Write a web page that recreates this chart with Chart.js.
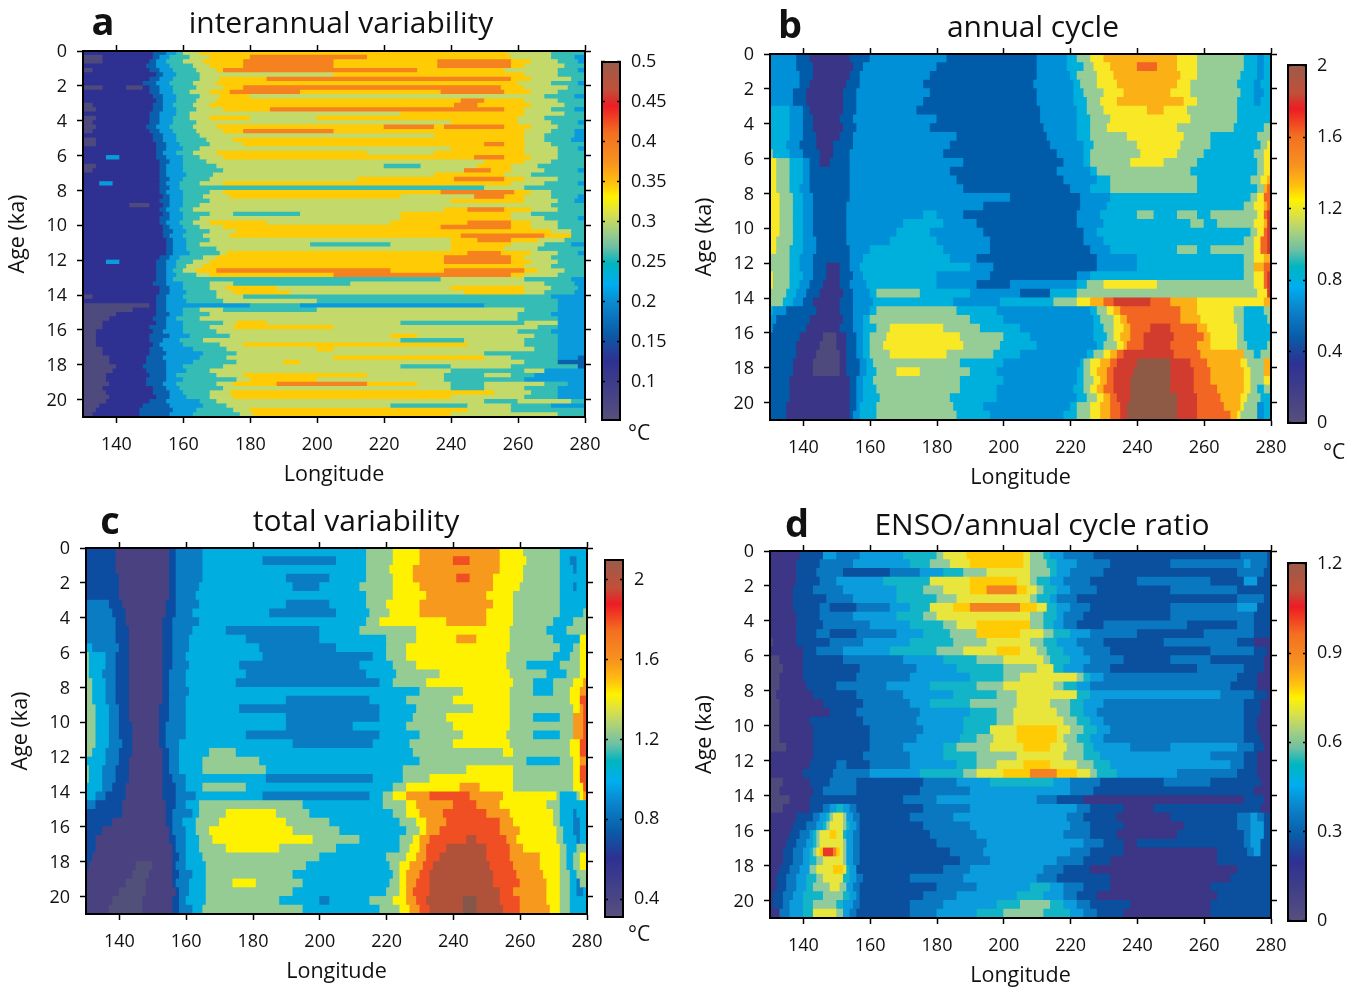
<!DOCTYPE html>
<html>
<head>
<meta charset="utf-8">
<title>Variability panels</title>
<script src="https://cdn.jsdelivr.net/npm/chart.js@4/dist/chart.umd.js"></script>
<style>
  body { margin: 0; background: #fff; font-family: "Open Sans", sans-serif; color: #111; }
  canvas { position: absolute; }
  .label { position: absolute; transform: translate(-50%, -50%); white-space: nowrap; }
  .title { font-size: 30px; }
  .letter { font-size: 38px; font-weight: 700; }
  .unit { font-size: 21px; }
</style>
</head>
<body>
<canvas id="panelA"></canvas><canvas id="barA"></canvas>
<canvas id="panelB"></canvas><canvas id="barB"></canvas>
<canvas id="panelC"></canvas><canvas id="barC"></canvas>
<canvas id="panelD"></canvas><canvas id="barD"></canvas>
<div class="label letter" style="left:103px;top:20px">a</div>
<div class="label title" style="left:341px;top:21px">interannual variability</div>
<div class="label letter" style="left:790px;top:23px">b</div>
<div class="label title" style="left:1033px;top:25px">annual cycle</div>
<div class="label letter" style="left:110px;top:519px">c</div>
<div class="label title" style="left:356px;top:519px">total variability</div>
<div class="label letter" style="left:797px;top:522px">d</div>
<div class="label title" style="left:1042px;top:523px">ENSO/annual cycle ratio</div>
<div class="label unit" style="left:639px;top:432px">°C</div>
<div class="label unit" style="left:1334px;top:451px">°C</div>
<div class="label unit" style="left:639px;top:933px">°C</div>
<script>
const lonTicks = [140, 160, 180, 200, 220, 240, 260, 280];
const ageTicks = [0, 2, 4, 6, 8, 10, 12, 14, 16, 18, 20];
const lonMin = 130, lonMax = 280, ageMax = 21;

const barTicksA = [0.1, 0.15, 0.2, 0.25, 0.3, 0.35, 0.4, 0.45, 0.5];
const barTicksB = [0, 0.4, 0.8, 1.2, 1.6, 2];
const barTicksC = [0.4, 0.8, 1.2, 1.6, 2];
const barTicksD = [0, 0.3, 0.6, 0.9, 1.2];

const levelsA = [0.05, 0.1, 0.15, 0.2, 0.25, 0.3, 0.35, 0.4, 0.45, 0.5];
const levelsB = [0, 0.2, 0.4, 0.6, 0.8, 1, 1.2, 1.4, 1.6, 1.8, 2];
const levelsC = [0.3, 0.4, 0.6, 0.8, 1, 1.2, 1.4, 1.6, 1.8, 2, 2.1];
const levelsD = [0, 0.12, 0.3, 0.375, 0.45, 0.525, 0.6, 0.7, 0.8, 0.9, 1.05];

const colorsA = ['#4f4a7d', '#2e3192', '#0b60ae', '#0a9bdd', '#35bcb5', '#c3d96a', '#ffcb05', '#f5821f', '#ed1c24', '#965a47'];
const colorsB = ['#4e4a7c', '#3b3587', '#005ca8', '#0090d8', '#00b0dc', '#96cc96', '#f8e825', '#fbb016', '#f26522', '#d23c2e', '#8f5a45'];
const colorsC = ['#50507a', '#4a4280', '#0c4da2', '#0a7cc4', '#00aee0', '#94cc94', '#fff200', '#f7991c', '#f04e23', '#b0523a', '#85574a'];
const colorsD = ['#4e4a7c', '#3d3585', '#0b4f9f', '#0a78c0', '#0a9cdc', '#12b4c8', '#8fcb9f', '#e8e53c', '#ffcb05', '#f58220', '#e8382a'];

const barStops = [
  [0, '#58507c'], [0.167, '#2e3192'], [0.242, '#0a5ca8'], [0.326, '#0a88cf'], [0.38, '#00aeef'],
  [0.437, '#00b5bf'], [0.484, '#6fc0a4'], [0.53, '#a5cf80'], [0.577, '#d9e04a'], [0.623, '#fff200'],
  [0.66, '#ffc20e'], [0.716, '#f7941e'], [0.8, '#f36f21'], [0.875, '#ed1c24'], [0.92, '#c0503a'], [1, '#9a5b4a']
];

// rows run evenly from age 0 to 21: longitude where a band ends, band value, ...
const rowsA = [
  [151,.1,155,.15,158,.2,160,.25,165,.3,257,.35,270,.3,280,.25],
  [136,.05,151,.1,153,.15,156,.2,162,.25,168,.3,180,.35,215,.4,258,.35,270,.3,277,.25,280,.2],
  [136,.05,150,.1,152,.15,155,.2,160,.25,166,.3,178,.35,205,.4,236,.35,258,.4,264,.35,272,.3,278,.25,280,.2],
  [149,.1,152,.15,156,.2,163,.25,168,.3,178,.35,205,.4,236,.35,258,.4,262,.35,274,.3,280,.25],
  [133,.05,150,.1,153,.15,157,.2,164,.25,170,.3,172,.35,230,.4,256,.35,272,.3,278,.25,280,.2],
  [152,.1,154,.15,158,.2,165,.25,205,.3,262,.35,272,.3,280,.25],
  [150,.1,153,.15,157,.2,165,.25,171,.3,185,.35,258,.4,264,.35,276,.3,280,.25],
  [148,.1,152,.15,156,.2,163,.25,170,.3,260,.35,270,.3,278,.25,280,.2],
  [136,.05,143,.1,148,.05,150,.1,153,.15,157,.2,164,.25,172,.3,178,.35,255,.4,262,.35,275,.3,280,.25],
  [150,.1,153,.15,157,.2,162,.25,168,.3,174,.35,195,.4,237,.35,256,.4,264,.35,272,.3,280,.25],
  [151,.1,154,.15,158,.2,165,.25,171,.3,180,.35,268,.3,277,.25,280,.2],
  [152,.1,154,.15,158,.2,164,.25,170,.3,243,.35,250,.4,262,.35,272,.3,280,.25],
  [133,.05,151,.1,154,.15,157,.2,163,.25,168,.3,241,.35,248,.4,264,.35,274,.3,280,.25],
  [134,.05,151,.1,154,.15,158,.2,164,.25,172,.3,186,.35,256,.4,262,.35,270,.3,277,.25,280,.2],
  [150,.1,153,.15,158,.2,162,.25,225,.3,262,.35,274,.3,280,.25],
  [134,.05,150,.1,153,.15,157,.2,162,.25,168,.3,180,.35,200,.3,260,.35,268,.3,280,.25],
  [133,.05,150,.1,153,.15,157,.2,164,.25,240,.3,260,.35,270,.3,278,.25,280,.2],
  [134,.05,149,.1,152,.15,156,.2,163,.25,170,.3,220,.35,235,.4,238,.35,256,.4,264,.35,272,.3,280,.25],
  [133,.05,150,.1,153,.15,157,.2,164,.25,172,.3,178,.35,205,.4,262,.35,270,.3,277,.25,280,.2],
  [151,.1,154,.15,158,.2,165,.25,235,.3,262,.35,268,.3,277,.25,280,.2],
  [134,.05,151,.1,154,.15,158,.2,167,.25,175,.3,262,.35,268,.3,276,.25,280,.2],
  [134,.05,152,.1,155,.15,159,.2,168,.25,178,.3,250,.35,256,.4,262,.35,270,.3,280,.25],
  [152,.1,155,.15,160,.2,165,.25,240,.3,262,.35,272,.3,278,.25,280,.2],
  [152,.1,154,.15,158,.2,163,.25,170,.3,215,.35,235,.3,262,.35,272,.3,280,.25],
  [137,.1,141,.2,152,.1,155,.15,160,.2,165,.25,172,.3,247,.35,256,.4,264,.35,272,.3,280,.25],
  [153,.1,156,.15,160,.2,167,.25,250,.3,262,.35,270,.3,280,.25],
  [134,.05,153,.1,155,.15,160,.2,170,.25,220,.3,231,.25,248,.3,258,.35,266,.3,280,.25],
  [133,.05,153,.1,155,.15,160,.2,172,.25,244,.3,252,.4,258,.35,268,.3,278,.25,280,.2],
  [153,.1,155,.15,161,.2,169,.25,235,.3,256,.35,264,.3,280,.25],
  [153,.1,156,.15,160,.2,168,.25,212,.3,241,.35,256,.4,262,.35,272,.3,280,.25],
  [135,.1,139,.2,153,.1,155,.15,159,.2,165,.25,172,.3,258,.35,268,.3,278,.25,280,.2],
  [153,.1,156,.15,159,.2,250,.25,262,.3,280,.25],
  [153,.1,155,.15,160,.2,168,.25,172,.3,237,.35,259,.4,264,.35,270,.3,280,.25],
  [154,.1,156,.15,160,.2,166,.25,174,.3,225,.35,247,.3,256,.4,262,.35,270,.3,278,.25,280,.2],
  [153,.1,156,.15,160,.2,168,.25,240,.3,262,.35,272,.3,277,.25,280,.2],
  [144,.1,150,.05,154,.1,156,.15,160,.2,165,.25,270,.3,280,.25],
  [153,.1,155,.15,159,.2,163,.25,238,.3,245,.35,256,.4,264,.35,272,.3,280,.25],
  [154,.1,156,.15,160,.2,168,.25,175,.3,195,.25,225,.3,258,.35,264,.3,280,.25],
  [153,.1,156,.15,160,.2,165,.25,225,.3,258,.35,268,.3,278,.25,280,.2],
  [153,.1,155,.15,159,.2,163,.25,168,.3,185,.35,222,.3,245,.35,258,.4,264,.35,272,.3,280,.25],
  [154,.1,156,.15,160,.2,165,.25,172,.3,237,.35,258,.4,264,.35,272,.3,280,.25],
  [154,.1,157,.15,161,.2,168,.25,176,.3,270,.35,276,.3,280,.25],
  [154,.1,156,.15,160,.2,166,.25,174,.3,243,.35,268,.4,276,.35,280,.25],
  [155,.1,157,.15,161,.2,168,.25,240,.3,248,.35,258,.4,266,.35,274,.3,280,.25],
  [155,.1,157,.15,161,.2,165,.25,198,.3,222,.25,240,.3,258,.35,268,.3,276,.25,280,.2],
  [155,.1,157,.15,161,.2,170,.25,240,.3,256,.35,266,.3,280,.25],
  [155,.1,157,.15,162,.2,171,.25,173,.3,245,.35,255,.4,264,.35,272,.3,278,.25,280,.2],
  [153,.1,156,.15,159,.2,166,.25,170,.3,238,.35,258,.4,262,.35,270,.3,280,.25],
  [137,.1,141,.2,152,.1,155,.15,158,.2,163,.25,168,.3,238,.35,258,.4,264,.35,272,.3,280,.25],
  [152,.1,155,.15,158,.2,161,.25,166,.3,262,.35,270,.3,280,.25],
  [152,.1,155,.15,157,.2,160,.25,164,.3,170,.35,222,.4,238,.35,262,.4,266,.35,274,.3,280,.25],
  [152,.1,155,.15,158,.2,164,.25,168,.3,205,.35,258,.4,262,.35,272,.3,280,.25],
  [152,.1,155,.15,157,.2,237,.25,262,.3,276,.25,280,.2],
  [151,.1,155,.15,160,.2,168,.25,175,.3,210,.25,268,.3,277,.25,280,.2],
  [153,.1,156,.15,160,.2,168,.25,173,.3,188,.35,240,.3,262,.35,270,.3,278,.25,280,.2],
  [153,.1,156,.15,161,.2,170,.25,175,.3,192,.35,244,.3,262,.35,268,.3,277,.25,280,.2],
  [133,.05,152,.1,155,.15,160,.2,170,.25,178,.3,270,.25,280,.2],
  [152,.1,155,.15,161,.2,172,.25,200,.3,272,.25,280,.2],
  [150,.05,152,.1,155,.15,180,.2,195,.25,250,.2,272,.25,280,.2],
  [145,.05,152,.1,155,.15,160,.2,165,.25,172,.3,200,.25,262,.3,272,.25,280,.2],
  [140,.05,152,.1,156,.15,160,.2,168,.25,260,.3,270,.25,280,.2],
  [138,.05,151,.1,155,.15,158,.2,165,.25,260,.3,272,.25,280,.2],
  [136,.05,152,.1,155,.15,160,.2,172,.25,176,.3,185,.35,225,.3,262,.25,272,.3,280,.2],
  [136,.05,150,.1,155,.15,160,.2,168,.25,175,.3,205,.35,266,.3,272,.25,280,.2],
  [134,.05,151,.1,154,.15,160,.2,170,.25,260,.3,270,.25,280,.2],
  [134,.05,150,.1,156,.15,162,.2,174,.25,222,.3,230,.35,265,.3,272,.25,280,.2],
  [134,.05,150,.1,154,.15,159,.2,166,.25,225,.3,244,.25,262,.3,272,.25,280,.2],
  [134,.05,151,.1,153,.15,160,.2,171,.25,178,.3,245,.35,262,.3,272,.25,280,.2],
  [136,.05,150,.1,154,.15,163,.2,173,.25,200,.3,205,.35,265,.3,272,.25,280,.2],
  [136,.05,150,.1,155,.15,166,.2,176,.25,250,.3,272,.25,280,.2],
  [138,.05,149,.1,154,.15,165,.2,173,.25,205,.3,250,.35,258,.3,272,.25,278,.2,280,.15],
  [138,.05,149,.1,155,.15,163,.2,176,.25,190,.3,195,.35,262,.3,272,.25,280,.15],
  [140,.05,148,.1,155,.15,160,.2,172,.25,225,.3,240,.25,258,.3,278,.25,280,.15],
  [139,.05,149,.1,155,.15,161,.2,168,.25,240,.3,262,.25,268,.3,280,.2],
  [137,.05,150,.1,155,.15,158,.2,170,.25,178,.3,215,.35,238,.3,250,.25,258,.3,265,.25,280,.2],
  [137,.05,149,.1,155,.15,160,.2,176,.25,180,.3,200,.35,238,.3,262,.25,280,.2],
  [138,.05,149,.1,154,.15,158,.2,170,.25,175,.3,188,.35,215,.4,230,.35,240,.3,250,.25,268,.3,275,.25,280,.2],
  [136,.05,151,.1,155,.15,159,.2,172,.25,240,.3,250,.25,262,.3,272,.25,280,.2],
  [137,.05,151,.1,156,.15,160,.2,168,.25,174,.3,253,.35,264,.3,272,.25,280,.2],
  [138,.05,152,.1,156,.15,161,.2,168,.25,175,.3,240,.35,262,.3,272,.25,280,.2],
  [137,.05,150,.1,155,.15,165,.2,170,.25,250,.3,260,.25,276,.3,280,.25],
  [135,.05,148,.1,156,.15,166,.2,173,.25,222,.3,245,.25,258,.3,270,.25,280,.2],
  [134,.05,147,.1,157,.15,164,.2,175,.25,180,.3,245,.35,258,.3,272,.25,280,.25],
  [133,.05,147,.1,156,.15,163,.2,177,.25,181,.3,240,.35,272,.3,280,.25]
];

const rowsB = [
  [138,.6,142,.4,154,.2,160,.4,183,.6,210,.4,219,.6,222,.8,226,1,230,1.2,252,1.4,258,1.2,272,1,276,.8,278,.6,280,.8],
  [138,.6,143,.4,155,.2,158,.4,180,.6,210,.4,219,.6,224,.8,227,1,232,1.2,240,1.4,246,1.6,252,1.4,258,1.2,272,1,276,.8,278,.6,280,.8],
  [139,.6,143,.4,154,.2,157,.4,178,.6,210,.4,220,.6,222,.8,228,1,233,1.2,253,1.4,258,1.2,271,1,276,.8,278,.6,280,.8],
  [139,.6,142,.4,153,.2,157,.4,176,.6,209,.4,221,.6,223,.8,228,1,234,1.2,252,1.4,256,1.2,270,1,275,.8,277,.6,280,.8],
  [137,.6,141,.4,152,.2,156,.4,178,.6,210,.4,221,.6,224,.8,230,1,236,1.2,250,1.4,256,1.2,271,1,275,.8,278,.6,280,.8],
  [137,.6,141,.4,152,.2,156,.4,176,.6,210,.4,221,.6,225,.8,229,1,234,1.2,254,1.4,258,1.2,270,1,275,.8,277,.6,280,.8],
  [136,.8,140,.6,142,.4,152,.2,156,.4,174,.6,211,.4,222,.6,225,.8,230,1,243,1.2,248,1.4,255,1.2,270,1,280,.8],
  [136,.8,140,.6,143,.4,151,.2,155,.4,180,.6,211,.4,222,.6,226,.8,232,1,256,1.2,270,1,280,.8],
  [136,.8,140,.6,143,.4,152,.2,156,.4,178,.6,212,.4,222,.6,226,.8,231,1,252,1.2,269,1,278,.8,280,1],
  [136,.8,140,.6,144,.4,151,.2,155,.4,186,.6,213,.4,222,.6,226,.8,237,1,254,1.2,262,1,276,.8,280,1],
  [135,.8,139,.6,144,.4,149,.2,155,.4,184,.6,214,.4,224,.6,227,.8,240,1,253,1.2,262,1,277,.8,279,1,280,1.2],
  [131,1,136,.8,140,.6,145,.4,149,.2,154,.4,182,.6,216,.4,224,.6,226,.8,241,1,252,1.2,260,1,275,.8,278,1,280,1.2],
  [132,1.2,136,1,140,.8,142,.6,145,.4,148,.2,154,.4,188,.6,218,.4,224,.6,226,.8,238,1,248,1.2,258,1,276,.8,278,1,280,1.2],
  [132,1.2,136,1,140,.8,142,.6,154,.4,184,.6,216,.4,226,.6,228,.8,256,1,276,.8,278,1,280,1.2],
  [132,1.2,136,1,140,.8,142,.6,154,.4,186,.6,218,.4,228,.6,232,.8,258,1,274,.8,277,1,279,1.2,280,1.4],
  [132,1.2,136,1,139,.8,142,.6,154,.4,188,.6,220,.4,226,.6,232,.8,258,1,276,.8,278,1,279,1.4,280,1.6],
  [133,1.2,137,1,140,.8,143,.6,154,.4,202,.6,223,.4,232,.6,274,.8,276,1,278,1.2,280,1.6],
  [133,1.2,137,1,140,.8,143,.6,153,.4,194,.6,223,.4,231,.6,272,.8,275,1,278,1.2,279,1.4,280,1.6],
  [133,1.2,137,1,140,.8,143,.6,153,.4,176,.6,180,.8,188,.6,222,.4,229,.6,240,.8,245,1,252,.8,258,1,262,.8,276,1,278,1.2,279,1.6,280,1.8],
  [133,1.2,137,1,140,.8,143,.6,153,.4,170,.6,182,.8,192,.6,222,.4,230,.6,256,.8,260,1,264,.8,275,1,278,1.2,279,1.4,280,1.8],
  [133,1.2,137,1,140,.8,143,.6,153,.4,168,.6,178,.8,194,.6,224,.4,228,.6,274,.8,276,1,278,1.2,279,1.6,280,1.8],
  [132,1.2,137,1,140,.8,144,.6,153,.4,166,.6,180,.8,196,.6,224,.4,230,.6,272,.8,275,1,277,1.2,279,1.6,280,1.8],
  [132,1.2,136,1,140,.8,144,.6,154,.4,160,.6,182,.8,196,.6,226,.4,232,.6,252,.8,258,1,262,.8,275,1,277,1.2,279,1.6,280,1.8],
  [136,1,139,.8,143,.6,154,.4,158,.6,184,.8,192,.6,228,.4,240,.6,272,.8,275,1,278,1.2,280,1.4],
  [136,1,139,.8,143,.6,147,.4,151,.2,154,.4,157,.6,190,.8,197,.6,228,.4,240,.6,272,.8,275,1,278,1.4,280,1.6],
  [131,1.2,136,1,140,.8,143,.6,147,.4,151,.2,155,.4,158,.6,180,.8,196,.6,222,.4,226,.6,272,.8,275,1,278,1.2,279,1.6,280,1.8],
  [131,1.2,136,1,139,.8,142,.6,146,.4,151,.2,154,.4,159,.6,180,.8,192,.6,202,.4,222,.6,225,.8,230,1,246,1.2,275,1,278,1.2,279,1.6,280,1.8],
  [135,1,138,.8,141,.6,145,.4,152,.2,155,.4,160,.6,162,.8,175,1,190,.8,205,.6,214,.4,222,.8,276,1,279,1.2,280,1.8],
  [134,1,137,.8,140,.6,143,.4,151,.2,155,.4,161,.6,185,.8,199,.6,215,.8,222,1,226,1.2,230,1.4,233,1.6,244,1.8,250,1.6,258,1.4,278,1.2,280,1.4],
  [131,.8,135,.6,144,.4,151,.2,155,.4,160,.6,162,.8,186,1,198,.8,226,.6,228,.8,231,1,233,1.2,235,1.4,253,1.6,258,1.4,269,1.2,272,1,278,.8,280,1],
  [132,.6,142,.4,152,.2,155,.4,158,.6,160,.8,190,1,200,.8,227,.6,229,.8,233,1,235,1.2,237,1.4,253,1.6,259,1.4,269,1.2,272,1,279,.8,280,1],
  [131,.6,141,.4,151,.2,155,.4,158,.6,162,.8,166,1,182,1.2,193,1,205,.8,227,.6,230,.8,233,1,236,1.2,238,1.4,244,1.6,250,1.8,258,1.6,261,1.4,270,1.2,272,1,280,.8],
  [139,.4,146,.2,150,0,153,.2,156,.4,158,.6,160,.8,165,1,187,1.2,200,1,208,.8,227,.6,231,.8,233,1,235,1.2,238,1.4,242,1.6,251,1.8,260,1.6,262,1.4,270,1.2,272,1,280,.8],
  [138,.4,145,.2,150,0,153,.2,156,.4,158,.6,160,.8,164,1,188,1.2,199,1,210,.8,228,.6,230,.8,234,1,236,1.2,237,1.4,242,1.6,250,1.8,258,1.6,262,1.4,270,1.2,273,1,279,.8,280,1],
  [138,.4,144,.2,151,0,153,.2,156,.4,158,.6,160,.8,166,1,183,1.2,197,1,205,.8,225,.6,227,.8,230,1,232,1.2,234,1.4,236,1.6,251,1.8,259,1.6,272,1.4,275,1,277,.8,280,1],
  [137,.4,143,.2,151,0,153,.2,157,.4,159,.6,161,.8,187,1,200,.8,223,.6,224,.8,226,1,229,1.2,232,1.4,234,1.6,240,1.8,250,2,256,1.8,261,1.6,271,1.4,273,1.2,278,1,280,1.4],
  [137,.4,143,.2,151,0,153,.2,157,.4,159,.6,162,.8,168,1,175,1.2,190,1,198,.8,222,.6,224,.8,226,1,228,1.2,231,1.4,233,1.6,239,1.8,250,2,257,1.8,262,1.6,272,1.4,274,1.2,278,1,280,1.4],
  [136,.4,154,.2,156,.4,158,.6,161,.8,187,1,200,.8,222,.6,224,.8,227,1,229,1.2,231,1.4,233,1.6,238,1.8,250,2,257,1.8,262,1.6,272,1.4,274,1.2,278,1,280,1.2],
  [136,.4,154,.2,156,.4,158,.6,162,.8,187,1,198,.8,221,.6,224,.8,226,1,228,1.2,230,1.4,233,1.6,238,1.8,250,2,257,1.8,264,1.6,272,1.4,274,1.2,276,1,278,.8,280,1],
  [136,.4,154,.2,156,.4,158,.6,163,.8,184,1,198,.8,222,.6,225,.8,228,1,230,1.2,232,1.4,234,1.6,238,1.8,252,2,258,1.8,265,1.6,271,1.4,273,1.2,277,1,280,.8],
  [135,.4,154,.2,156,.4,157,.6,162,.8,185,1,194,.8,220,.6,222,.8,226,1,229,1.2,232,1.4,235,1.6,237,1.8,252,2,258,1.8,266,1.6,271,1.4,272,1.2,276,1,278,.6,280,.8],
  [135,.4,154,.2,155,.4,157,.6,162,.8,186,1,196,.8,218,.6,222,.8,226,1,229,1.2,232,1.4,235,1.6,237,1.8,252,2,258,1.8,268,1.6,270,1.4,271,1.2,276,1,278,.6,280,.8]
];

const rowsC = [
  [139,.6,155,.4,157,.6,165,.8,214,1,222,1.2,230,1.4,254,1.6,261,1.4,272,1.2,280,1],
  [139,.6,155,.4,157,.6,165,.8,183,1,205,.8,214,1,222,1.2,230,1.4,240,1.6,245,1.8,254,1.6,262,1.4,272,1.2,275,1,277,.8,280,1],
  [139,.6,155,.4,157,.6,165,.8,214,1,221,1.2,228,1.4,254,1.6,261,1.4,272,1.2,276,1,277,.8,280,1],
  [140,.6,155,.4,157,.6,165,.8,190,1,203,.8,214,1,222,1.2,228,1.4,241,1.6,245,1.8,252,1.6,261,1.4,272,1.2,280,1],
  [140,.6,155,.4,157,.6,164,.8,192,1,200,.8,212,1,222,1.2,230,1.4,252,1.6,260,1.4,272,1.2,276,1,277,.8,280,1],
  [140,.6,155,.4,157,.6,163,.8,214,1,222,1.2,232,1.4,250,1.6,258,1.4,272,1.2,280,1],
  [137,.8,141,.6,154,.4,157,.6,164,.8,190,1,203,.8,214,1,220,1.2,230,1.4,252,1.6,258,1.4,272,1.2,280,1],
  [138,.8,142,.6,154,.4,157,.6,162,.8,185,1,205,.8,215,1,221,1.2,230,1.4,250,1.6,258,1.4,272,1.2,279,1,280,1.2],
  [139,.8,142,.6,153,.4,156,.6,164,.8,214,1,218,1.2,238,1.4,250,1.6,258,1.4,270,1.2,276,1,280,1.2],
  [139,.8,143,.6,153,.4,156,.6,162,.8,172,1,200,.8,212,1,229,1.2,257,1.4,268,1.2,274,1,280,1.2],
  [139,.8,143,.6,153,.4,156,.6,161,.8,178,1,200,.8,220,1,229,1.2,241,1.4,247,1.6,257,1.4,270,1.2,278,1,280,1.4],
  [132,1,140,.8,143,.6,153,.4,156,.6,161,.8,182,1,205,.8,220,1,226,1.2,257,1.4,272,1.2,276,1,278,1.2,280,1.4],
  [131,1.2,136,1,139,.8,143,.6,153,.4,156,.6,160,.8,183,1,216,.8,220,1,226,1.2,256,1.4,270,1.2,275,1,278,1.2,280,1.4],
  [131,1.2,136,1,139,.8,143,.6,153,.4,156,.6,161,.8,176,1,212,.8,222,1,229,1.2,256,1.4,262,1.2,272,1,278,1.2,280,1.4],
  [131,1.2,135,1,139,.8,143,.6,153,.4,155,.6,160,.8,178,1,214,.8,223,1,236,1.2,257,1.4,268,1.2,274,1,278,1.2,280,1.4],
  [132,1.2,136,1,139,.8,143,.6,153,.4,155,.6,160,.8,175,1,218,.8,222,1,232,1.2,258,1.4,264,1.2,270,1,276,1.2,279,1.4,280,1.6],
  [132,1.2,136,1,139,.8,143,.6,153,.4,155,.6,161,.8,230,1,243,1.2,257,1.4,264,1.2,270,1,275,1.2,278,1.4,280,1.6],
  [132,1.2,136,1,139,.8,143,.6,153,.4,155,.6,160,.8,190,1,215,.8,226,1,240,1.2,257,1.4,275,1.2,278,1.4,280,1.8],
  [133,1.2,137,1,140,.8,143,.6,152,.4,155,.6,160,.8,176,1,218,.8,229,1,246,1.2,257,1.4,276,1.2,278,1.4,279,1.6,280,1.8],
  [133,1.2,137,1,140,.8,143,.6,152,.4,155,.6,160,.8,190,1,218,.8,228,1,238,1.2,257,1.4,264,1.2,272,1,276,1.2,279,1.6,280,1.8],
  [133,1.2,137,1,140,.8,144,.6,152,.4,154,.6,160,.8,190,1,210,.8,226,1,240,1.2,257,1.4,276,1.2,279,1.6,280,1.8],
  [133,1.2,137,1,140,.8,144,.6,152,.4,154,.6,160,.8,178,1,218,.8,230,1,243,1.2,256,1.4,264,1.2,272,1,276,1.2,279,1.6,280,1.8],
  [133,1.2,137,1,141,.8,144,.6,152,.4,154,.6,158,.8,192,1,216,.8,227,1,240,1.2,257,1.4,275,1.2,278,1.4,280,1.8],
  [132,1.2,136,1,140,.8,144,.6,153,.4,155,.6,158,.8,167,1,175,1.2,228,1,255,1.2,258,1.4,275,1.2,278,1.4,280,1.8],
  [136,1,140,.8,143,.6,153,.4,155,.6,158,.8,165,1,182,1.2,230,1,262,1.2,272,1,276,1.2,278,1.4,280,1.6],
  [131,1.2,135,1,139,.8,143,.6,153,.4,155,.6,158,.8,165,1,184,1.2,225,1,244,1.2,258,1.4,276,1.2,278,1.4,280,1.8],
  [131,1.2,135,1,139,.8,143,.6,153,.4,156,.6,160,.8,184,1,216,.8,225,1,233,1.2,258,1.4,276,1.2,278,1.4,280,1.8],
  [135,1,138,.8,142,.6,153,.4,157,.6,160,.8,165,1,178,1.2,222,1,226,1.2,242,1.4,248,1.6,258,1.4,276,1.2,279,1.4,280,1.8],
  [133,1,136,.8,142,.6,153,.4,157,.6,163,.8,183,1,215,.8,219,1,222,1.2,226,1.4,233,1.6,245,1.8,255,1.6,271,1.4,272,1.2,277,1,278,1.2,279,1.4,280,1.6],
  [133,.8,141,.6,154,.4,157,.6,160,.8,164,1,195,1.2,219,1,226,1.2,229,1.4,240,1.6,247,1.8,254,1.6,268,1.4,272,1.2,280,1],
  [141,.6,154,.4,156,.6,162,.8,164,1,172,1.2,187,1.4,197,1.2,222,1,226,1.2,230,1.4,237,1.6,250,1.8,257,1.6,270,1.4,272,1.2,276,1,277,.8,280,1],
  [138,.6,154,.4,156,.6,159,.8,163,1,170,1.2,190,1.4,203,1.2,224,1,229,1.2,232,1.4,238,1.6,254,1.8,258,1.6,270,1.4,272,1.2,276,1,278,.8,280,1],
  [135,.6,155,.4,156,.6,160,.8,163,1,167,1.2,192,1.4,206,1.2,226,1,230,1.2,232,1.4,236,1.6,254,1.8,260,1.6,271,1.4,273,1.2,276,1,278,.8,280,1],
  [133,.6,155,.4,157,.6,160,.8,164,1,168,1.2,198,1.4,212,1.2,224,1,228,1.2,230,1.4,233,1.6,244,1.8,247,2,256,1.8,259,1.6,271,1.4,273,1.2,277,1,278,.8,280,1],
  [133,.6,156,.4,157,.6,160,.8,164,1,172,1.2,188,1.4,205,1.2,224,1,227,1.2,230,1.4,232,1.6,238,1.8,250,2,257,1.8,261,1.6,272,1.4,274,1.2,277,1,280,1.2],
  [132,.6,156,.4,158,.6,160,.8,165,1,200,1.2,220,1,226,1.2,229,1.4,232,1.6,236,1.8,250,2,257,1.8,266,1.6,272,1.4,274,1.2,276,1,278,1.2,280,1.4],
  [131,.6,145,.4,150,.3,156,.4,157,.6,160,.8,166,1,196,1.2,221,1,224,1.2,227,1.4,231,1.6,234,1.8,251,2,258,1.8,266,1.6,272,1.4,274,1.2,276,1,278,1.2,280,1.4],
  [144,.4,149,.3,156,.4,158,.6,162,.8,166,1,192,1.2,222,1,224,1.2,226,1.4,230,1.6,233,1.8,252,2,259,1.8,267,1.6,272,1.4,275,1.2,277,1,280,1.2],
  [142,.4,148,.3,156,.4,157,.6,161,.8,166,1,174,1.2,181,1.4,195,1.2,221,1,224,1.2,226,1.4,229,1.6,233,1.8,252,2,260,1.8,268,1.6,272,1.4,275,1.2,277,1,278,.8,280,1.2],
  [140,.4,148,.3,157,.4,158,.6,161,.8,166,1,192,1.2,220,1,224,1.2,226,1.4,228,1.6,233,1.8,254,2,258,1.8,268,1.6,272,1.4,275,1.2,277,1,279,.8,280,1],
  [138,.4,147,.3,156,.4,158,.6,160,.8,166,1,188,1.2,200,1,203,.8,215,1,222,1.2,226,1.4,229,1.6,232,1.8,243,2,247,2.1,254,2,260,1.8,268,1.6,272,1.4,275,1.2,280,1],
  [137,.4,147,.3,156,.4,158,.6,162,.8,165,1,195,1.2,218,1,224,1.2,227,1.4,230,1.6,233,1.8,243,2,247,2.1,255,2,260,1.8,269,1.6,272,1.4,275,1.2,280,1]
];

const rowsD = [
  [139,.12,146,.3,150,.45,157,.375,170,.45,180,.525,182,.6,189,.7,206,.8,208,.7,212,.6,214,.525,218,.45,227,.375,271,.3,279,.375,280,.3],
  [138,.12,145,.3,155,.375,172,.45,178,.525,184,.6,190,.7,206,.8,208,.7,213,.6,216,.525,222,.45,232,.375,250,.3,272,.375,274,.45,279,.375,280,.3],
  [138,.12,144,.3,152,.375,166,.3,175,.375,182,.45,188,.525,195,.6,208,.7,214,.6,216,.525,220,.45,230,.375,270,.3,278,.375,280,.3],
  [138,.12,145,.3,150,.375,164,.45,178,.525,190,.7,204,.8,208,.7,210,.6,214,.525,218,.45,226,.375,240,.3,262,.375,272,.3,276,.45,280,.3],
  [137,.12,143,.3,152,.375,168,.45,176,.525,182,.6,190,.7,195,.8,204,.9,207,.8,210,.7,212,.6,216,.525,220,.45,228,.375,250,.3,270,.375,280,.3],
  [137,.12,147,.3,155,.375,168,.45,180,.525,186,.6,208,.7,210,.6,214,.525,216,.45,222,.375,270,.3,278,.375,280,.3],
  [137,.12,145,.3,148,.375,156,.3,166,.375,172,.45,178,.525,185,.7,190,.8,205,.9,210,.8,213,.7,216,.525,220,.45,226,.375,250,.3,270,.375,276,.45,280,.3],
  [138,.12,145,.3,155,.375,168,.45,176,.525,180,.6,208,.7,212,.6,216,.525,218,.45,224,.375,250,.3,275,.375,280,.3],
  [138,.12,146,.3,160,.375,172,.45,182,.525,186,.6,192,.7,208,.8,212,.6,215,.525,218,.45,222,.375,230,.3,255,.375,270,.3,275,.375,280,.3],
  [138,.12,144,.3,148,.375,156,.3,168,.375,176,.45,184,.525,192,.6,205,.8,212,.7,215,.6,220,.525,226,.45,240,.375,260,.3,275,.375,280,.3],
  [131,0,138,.12,148,.3,158,.375,172,.45,185,.525,195,.6,208,.7,212,.6,216,.525,222,.45,230,.375,248,.3,270,.375,275,.3,280,.12],
  [140,.12,144,.3,152,.375,166,.45,180,.525,188,.6,198,.7,205,.8,210,.7,213,.6,218,.525,224,.45,232,.375,262,.3,275,.375,279,.3,280,.12],
  [133,0,140,.12,152,.3,170,.375,182,.45,192,.525,200,.6,212,.7,214,.6,220,.525,226,.45,236,.375,250,.3,262,.375,278,.3,280,.12],
  [134,0,140,.12,157,.3,174,.375,186,.45,200,.525,210,.6,215,.7,218,.525,224,.45,232,.375,258,.3,272,.375,278,.3,280,.12],
  [133,0,140,.12,156,.3,172,.375,190,.45,200,.525,205,.6,222,.7,224,.6,226,.525,230,.45,270,.375,276,.3,280,.12],
  [133,0,141,.12,150,.3,165,.375,178,.45,192,.525,200,.6,215,.7,218,.6,222,.525,226,.45,268,.375,276,.3,280,.12],
  [132,0,143,.12,156,.3,170,.375,185,.45,198,.525,204,.6,222,.7,226,.525,265,.45,275,.375,279,.3,280,.12],
  [133,0,146,.12,158,.3,172,.375,178,.45,190,.525,204,.6,214,.7,220,.6,224,.525,230,.45,272,.375,277,.3,280,.12],
  [133,0,148,.12,156,.3,175,.375,190,.45,198,.525,203,.6,216,.7,220,.6,224,.525,228,.45,272,.375,277,.3,280,.12],
  [133,0,142,.12,158,.3,174,.375,188,.45,198,.525,203,.6,218,.7,222,.6,226,.525,230,.45,272,.375,276,.3,280,.12],
  [133,0,143,.12,160,.3,176,.375,188,.45,196,.525,204,.7,216,.8,220,.7,224,.6,228,.525,232,.45,272,.375,276,.3,280,.12],
  [133,0,143,.12,160,.3,174,.375,187,.45,192,.525,197,.6,204,.7,216,.8,218,.7,222,.6,226,.525,230,.45,272,.375,277,.3,280,.12],
  [135,0,143,.12,160,.3,170,.375,182,.45,186,.525,196,.6,206,.7,214,.8,219,.7,224,.6,227,.525,238,.45,250,.375,270,.45,275,.375,278,.3,280,.12],
  [143,.12,158,.3,172,.375,182,.45,192,.525,204,.6,218,.7,224,.6,229,.525,262,.45,272,.375,276,.3,280,.12],
  [142,.12,150,.3,153,.375,160,.3,172,.375,186,.45,192,.525,198,.6,206,.7,214,.8,222,.7,227,.6,232,.525,268,.45,272,.375,276,.3,280,.12],
  [140,.12,149,.3,160,.375,175,.45,188,.525,192,.6,200,.7,208,.8,216,.9,222,.8,226,.7,228,.6,234,.525,252,.45,270,.375,276,.3,280,.12],
  [134,0,142,.12,148,.3,156,.375,176,.3,186,.375,196,.45,215,.525,220,.45,229,.375,248,.3,262,.375,277,.3,280,.12],
  [133,0,143,.12,146,.3,156,.375,175,.3,190,.375,220,.45,227,.375,275,.3,280,.12],
  [136,0,142,.12,170,.3,180,.375,210,.45,216,.375,224,.3,272,.12,278,.3,280,.12],
  [134,0,142,.12,146,.3,148,.375,150,.45,152,.525,154,.45,156,.375,176,.3,190,.375,222,.45,226,.375,236,.3,245,.12,277,.3,280,.12],
  [138,.12,143,.3,145,.375,147,.45,148,.525,149,.6,152,.7,153,.6,155,.45,157,.375,172,.3,185,.375,219,.45,224,.375,234,.3,250,.12,270,.3,274,.375,276,.45,278,.375,280,.3],
  [137,.12,141,.3,144,.375,146,.45,147,.525,148,.6,152,.7,153,.6,154,.525,156,.45,157,.375,176,.3,190,.375,220,.45,226,.375,236,.3,254,.12,270,.3,274,.375,278,.45,280,.3],
  [136,.12,139,.3,142,.375,143,.45,144,.525,145,.6,148,.7,150,.8,152,.7,153,.525,155,.45,157,.375,178,.3,192,.375,218,.45,226,.375,234,.3,252,.12,272,.3,274,.375,278,.45,280,.3],
  [135,.12,138,.3,141,.375,143,.45,144,.525,145,.6,152,.7,153,.6,155,.45,157,.375,180,.3,195,.375,224,.45,230,.375,236,.3,240,.12,272,.3,274,.375,277,.45,280,.3],
  [134,.12,137,.3,140,.375,142,.45,143,.525,144,.6,145,.7,146,.8,149,1.05,150,.9,151,.8,152,.7,153,.6,155,.45,157,.375,184,.3,194,.375,220,.45,226,.375,236,.3,264,.12,273,.3,275,.375,277,.45,280,.3],
  [134,.12,137,.3,140,.375,142,.45,144,.525,146,.6,152,.7,153,.6,155,.45,157,.375,187,.3,196,.375,216,.45,224,.375,232,.3,264,.12,280,.3],
  [133,.12,136,.3,139,.375,142,.45,144,.6,149,.7,152,.8,153,.7,154,.525,156,.45,182,.3,190,.375,212,.45,218,.375,226,.3,270,.12,280,.3],
  [132,.12,135,.3,138,.375,141,.45,144,.525,146,.6,152,.7,154,.525,156,.45,158,.375,172,.3,188,.375,210,.45,216,.375,232,.3,268,.12,280,.3],
  [132,.12,135,.3,138,.375,141,.45,143,.525,148,.6,151,.7,153,.6,155,.45,157,.375,180,.3,192,.375,208,.45,214,.525,218,.45,224,.375,232,.3,262,.12,280,.3],
  [131,.12,134,.3,137,.375,140,.45,146,.525,152,.6,154,.525,156,.45,157,.375,176,.3,186,.375,204,.45,212,.525,218,.45,222,.375,228,.3,264,.12,280,.3],
  [131,.12,134,.3,136,.375,140,.45,143,.525,150,.6,152,.525,155,.45,157,.375,172,.3,182,.375,198,.45,205,.525,214,.6,218,.525,222,.45,226,.375,238,.3,262,.12,280,.3],
  [133,.12,136,.375,140,.45,143,.525,150,.7,152,.6,154,.45,156,.375,172,.3,180,.375,192,.45,200,.525,212,.6,220,.525,224,.45,228,.375,236,.3,262,.12,280,.3]
];

const fontFamily = '"Open Sans", sans-serif';
const tickFont = { family: fontFamily, size: 18 };
const axisFont = { family: fontFamily, size: 21.5 };
const ink = '#111';

const toBars = (rows) => {
  const step = ageMax / rows.length;
  return rows.flatMap((row, i) => {
    const bars = [];
    let start = lonMin;
    for (let k = 0; k < row.length; k += 2) {
      bars.push({ y: (i + 0.5) * step, x: [start, row[k]], band: row[k + 1] });
      start = row[k];
    }
    return bars;
  });
};

const bandColor = (value, levels, colors) => {
  let idx = 0;
  levels.forEach((level, i) => { if (level <= value) idx = i; });
  return colors[idx];
};

const axisLine = { color: '#000', width: 2, z: 1 };
const axisGrid = { drawOnChartArea: false, tickLength: 6, tickWidth: 1.5, tickColor: '#000', z: 1, offset: false };

const lonAxis = (position, size, labelled) => ({
  type: 'linear', position, min: lonMin, max: lonMax, offset: false,
  border: axisLine, grid: axisGrid,
  afterBuildTicks: (s) => { s.ticks = lonTicks.map((value) => ({ value })); },
  afterFit: (s) => { s.height = size; s.paddingLeft = 0; s.paddingRight = 0; },
  ticks: { display: labelled, autoSkip: false, maxRotation: 0, padding: 11, font: tickFont, color: ink, callback: (v) => String(v) },
  title: { display: labelled, text: 'Longitude', font: axisFont, color: ink, padding: 0 }
});

const ageAxis = (position, size, labelled) => ({
  type: 'linear', position, min: 0, max: ageMax, reverse: true, offset: false,
  border: axisLine, grid: axisGrid,
  afterBuildTicks: (s) => { s.ticks = ageTicks.map((value) => ({ value })); },
  afterFit: (s) => { s.width = size; s.paddingTop = 0; s.paddingBottom = 0; },
  ticks: { display: labelled, autoSkip: false, padding: 10, labelOffset: 1, font: tickFont, color: ink, callback: (v) => String(v) },
  title: { display: labelled, text: 'Age (ka)', font: axisFont, color: ink, padding: 0 }
});

const place = (el, left, top, width, height) => {
  el.width = width;
  el.height = height;
  el.style.left = left + 'px';
  el.style.top = top + 'px';
};

const drawPanel = (id, rows, levels, colors, box) => {
  const el = document.getElementById(id);
  const side = { left: 78, right: 22, top: 8, bottom: 71 };
  place(el, box.l - side.left, box.t - side.top, box.r - box.l + side.left + side.right, box.b - box.t + side.top + side.bottom);
  return new Chart(el, {
    type: 'bar',
    data: {
      datasets: [{
        data: toBars(rows),
        backgroundColor: (ctx) => (ctx.raw ? bandColor(ctx.raw.band, levels, colors) : '#000'),
        borderWidth: 0,
        inflateAmount: 0.5,
        barPercentage: 1,
        categoryPercentage: 1
      }]
    },
    options: {
      indexAxis: 'y',
      responsive: false,
      animation: false,
      events: [],
      plugins: { legend: { display: false }, tooltip: { enabled: false } },
      scales: {
        x: lonAxis('bottom', side.bottom, true),
        x2: lonAxis('top', side.top, false),
        y: ageAxis('left', side.left, true),
        y2: ageAxis('right', side.right, false)
      }
    }
  });
};

const drawColorBar = (id, ticks, box) => {
  const el = document.getElementById(id);
  const pad = 10;
  const labelWidth = 56;
  place(el, box.l, box.t - pad, box.r - box.l + labelWidth, box.b - box.t + pad * 2);
  const tickMarks = { drawOnChartArea: false, tickLength: -4, tickWidth: 1.5, tickColor: '#000', z: 1 };
  const barAxis = (position, size, labelled) => ({
    position, min: box.min, max: box.max,
    border: { display: false },
    grid: tickMarks,
    afterBuildTicks: (s) => { s.ticks = ticks.map((value) => ({ value })); },
    afterFit: (s) => { s.width = size; s.paddingTop = 0; s.paddingBottom = 0; },
    ticks: { display: labelled, autoSkip: false, padding: 14, font: tickFont, color: ink, callback: (v) => String(v) }
  });
  return new Chart(el, {
    type: 'bar',
    data: {
      labels: [''],
      datasets: [{
        data: [[box.min, box.max]],
        backgroundColor: (ctx) => {
          const area = ctx.chart.chartArea;
          if (!area) return '#888';
          const grad = ctx.chart.ctx.createLinearGradient(0, area.bottom, 0, area.top);
          barStops.forEach(([t, c]) => grad.addColorStop(t, c));
          return grad;
        },
        borderColor: '#000',
        borderWidth: 2,
        borderSkipped: false,
        inflateAmount: 0,
        barPercentage: 1,
        categoryPercentage: 1
      }]
    },
    options: {
      responsive: false,
      animation: false,
      events: [],
      layout: { padding: { top: pad, bottom: pad } },
      plugins: { legend: { display: false }, tooltip: { enabled: false } },
      scales: {
        x: { display: false },
        y: barAxis('right', labelWidth, true),
        y2: barAxis('left', 0, false)
      }
    }
  });
};

drawPanel('panelA', rowsA, levelsA, colorsA, { l: 83, r: 585, t: 51, b: 417 });
drawPanel('panelB', rowsB, levelsB, colorsB, { l: 770, r: 1271, t: 54, b: 420 });
drawPanel('panelC', rowsC, levelsC, colorsC, { l: 86, r: 587, t: 548, b: 914 });
drawPanel('panelD', rowsD, levelsD, colorsD, { l: 770, r: 1271, t: 551, b: 918 });

drawColorBar('barA', barTicksA, { l: 601, r: 621, t: 61, b: 421, min: 0.051, max: 0.501 });
drawColorBar('barB', barTicksB, { l: 1287, r: 1307, t: 64, b: 424, min: -0.006, max: 2.01 });
drawColorBar('barC', barTicksC, { l: 604, r: 624, t: 559, b: 918, min: 0.305, max: 2.105 });
drawColorBar('barD', barTicksD, { l: 1287, r: 1307, t: 562, b: 922, min: -0.004, max: 1.206 });
</script>
</body>
</html>
